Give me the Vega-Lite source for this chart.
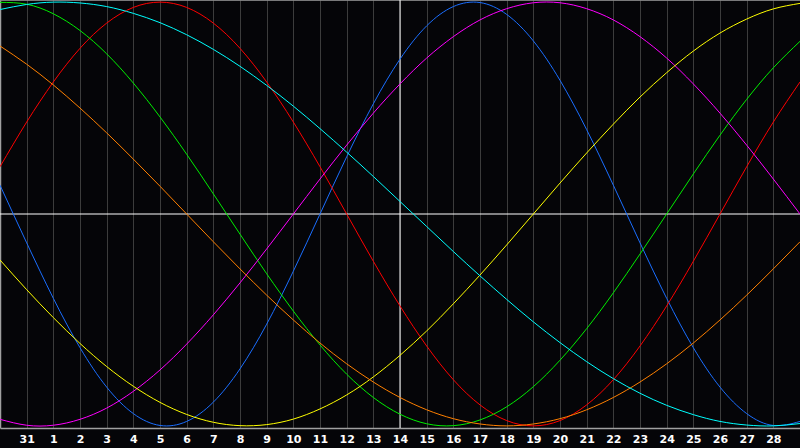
{
  "$schema": "https://vega.github.io/schema/vega-lite/v6.json",
  "width": 800,
  "height": 428,
  "autosize": {"type": "none"},
  "padding": {"left": 0, "top": 0, "right": 0, "bottom": 20},
  "background": "#050508",
  "config": {"view": {"stroke": null}},
  "datasets": {
    "refs": [
      {"kind": "center", "v": 0},
      {"kind": "top", "v": 1.01}
    ],
    "vrefs": [
      {"kind": "today", "t": 15}
    ],
    "curves": [
      {"s":"physical","t":0,"v":0.136},{"s":"physical","t":1,"v":-0.136},{"s":"physical","t":2,"v":-0.398},{"s":"physical","t":3,"v":-0.631},{"s":"physical","t":4,"v":-0.817},{"s":"physical","t":5,"v":-0.942},{"s":"physical","t":6,"v":-0.998},{"s":"physical","t":7,"v":-0.979},{"s":"physical","t":8,"v":-0.888},{"s":"physical","t":9,"v":-0.731},{"s":"physical","t":10,"v":-0.520},{"s":"physical","t":11,"v":-0.270},{"s":"physical","t":12,"v":0},{"s":"physical","t":13,"v":0.270},{"s":"physical","t":14,"v":0.520},{"s":"physical","t":15,"v":0.731},{"s":"physical","t":16,"v":0.888},{"s":"physical","t":17,"v":0.979},{"s":"physical","t":18,"v":0.998},{"s":"physical","t":19,"v":0.942},{"s":"physical","t":20,"v":0.817},{"s":"physical","t":21,"v":0.631},{"s":"physical","t":22,"v":0.398},{"s":"physical","t":23,"v":0.136},{"s":"physical","t":24,"v":-0.136},{"s":"physical","t":25,"v":-0.398},{"s":"physical","t":26,"v":-0.631},{"s":"physical","t":27,"v":-0.817},{"s":"physical","t":28,"v":-0.942},{"s":"physical","t":29,"v":-0.998},{"s":"physical","t":30,"v":-0.979},
      {"s":"emotional","t":0,"v":0.223},{"s":"emotional","t":1,"v":0.434},{"s":"emotional","t":2,"v":0.623},{"s":"emotional","t":3,"v":0.782},{"s":"emotional","t":4,"v":0.901},{"s":"emotional","t":5,"v":0.975},{"s":"emotional","t":6,"v":1},{"s":"emotional","t":7,"v":0.975},{"s":"emotional","t":8,"v":0.901},{"s":"emotional","t":9,"v":0.782},{"s":"emotional","t":10,"v":0.623},{"s":"emotional","t":11,"v":0.434},{"s":"emotional","t":12,"v":0.223},{"s":"emotional","t":13,"v":0},{"s":"emotional","t":14,"v":-0.223},{"s":"emotional","t":15,"v":-0.434},{"s":"emotional","t":16,"v":-0.623},{"s":"emotional","t":17,"v":-0.782},{"s":"emotional","t":18,"v":-0.901},{"s":"emotional","t":19,"v":-0.975},{"s":"emotional","t":20,"v":-1},{"s":"emotional","t":21,"v":-0.975},{"s":"emotional","t":22,"v":-0.901},{"s":"emotional","t":23,"v":-0.782},{"s":"emotional","t":24,"v":-0.623},{"s":"emotional","t":25,"v":-0.434},{"s":"emotional","t":26,"v":-0.223},{"s":"emotional","t":27,"v":0},{"s":"emotional","t":28,"v":0.223},{"s":"emotional","t":29,"v":0.434},{"s":"emotional","t":30,"v":0.623},
      {"s":"intellectual","t":0,"v":0.999},{"s":"intellectual","t":1,"v":0.990},{"s":"intellectual","t":2,"v":0.945},{"s":"intellectual","t":3,"v":0.866},{"s":"intellectual","t":4,"v":0.756},{"s":"intellectual","t":5,"v":0.618},{"s":"intellectual","t":6,"v":0.458},{"s":"intellectual","t":7,"v":0.282},{"s":"intellectual","t":8,"v":0.095},{"s":"intellectual","t":9,"v":-0.095},{"s":"intellectual","t":10,"v":-0.282},{"s":"intellectual","t":11,"v":-0.458},{"s":"intellectual","t":12,"v":-0.618},{"s":"intellectual","t":13,"v":-0.756},{"s":"intellectual","t":14,"v":-0.866},{"s":"intellectual","t":15,"v":-0.945},{"s":"intellectual","t":16,"v":-0.990},{"s":"intellectual","t":17,"v":-0.999},{"s":"intellectual","t":18,"v":-0.972},{"s":"intellectual","t":19,"v":-0.910},{"s":"intellectual","t":20,"v":-0.815},{"s":"intellectual","t":21,"v":-0.690},{"s":"intellectual","t":22,"v":-0.541},{"s":"intellectual","t":23,"v":-0.372},{"s":"intellectual","t":24,"v":-0.189},{"s":"intellectual","t":25,"v":0},{"s":"intellectual","t":26,"v":0.189},{"s":"intellectual","t":27,"v":0.372},{"s":"intellectual","t":28,"v":0.541},{"s":"intellectual","t":29,"v":0.690},{"s":"intellectual","t":30,"v":0.815},
      {"s":"intuitive","t":0,"v":-0.969},{"s":"intuitive","t":1,"v":-0.997},{"s":"intuitive","t":2,"v":-0.997},{"s":"intuitive","t":3,"v":-0.969},{"s":"intuitive","t":4,"v":-0.916},{"s":"intuitive","t":5,"v":-0.837},{"s":"intuitive","t":6,"v":-0.736},{"s":"intuitive","t":7,"v":-0.614},{"s":"intuitive","t":8,"v":-0.476},{"s":"intuitive","t":9,"v":-0.325},{"s":"intuitive","t":10,"v":-0.165},{"s":"intuitive","t":11,"v":0},{"s":"intuitive","t":12,"v":0.165},{"s":"intuitive","t":13,"v":0.325},{"s":"intuitive","t":14,"v":0.476},{"s":"intuitive","t":15,"v":0.614},{"s":"intuitive","t":16,"v":0.736},{"s":"intuitive","t":17,"v":0.837},{"s":"intuitive","t":18,"v":0.916},{"s":"intuitive","t":19,"v":0.969},{"s":"intuitive","t":20,"v":0.997},{"s":"intuitive","t":21,"v":0.997},{"s":"intuitive","t":22,"v":0.969},{"s":"intuitive","t":23,"v":0.916},{"s":"intuitive","t":24,"v":0.837},{"s":"intuitive","t":25,"v":0.736},{"s":"intuitive","t":26,"v":0.614},{"s":"intuitive","t":27,"v":0.476},{"s":"intuitive","t":28,"v":0.325},{"s":"intuitive","t":29,"v":0.165},{"s":"intuitive","t":30,"v":0},
      {"s":"aesthetic","t":0,"v":-0.217},{"s":"aesthetic","t":1,"v":-0.357},{"s":"aesthetic","t":2,"v":-0.489},{"s":"aesthetic","t":3,"v":-0.611},{"s":"aesthetic","t":4,"v":-0.720},{"s":"aesthetic","t":5,"v":-0.813},{"s":"aesthetic","t":6,"v":-0.889},{"s":"aesthetic","t":7,"v":-0.946},{"s":"aesthetic","t":8,"v":-0.983},{"s":"aesthetic","t":9,"v":-0.999},{"s":"aesthetic","t":10,"v":-0.994},{"s":"aesthetic","t":11,"v":-0.968},{"s":"aesthetic","t":12,"v":-0.920},{"s":"aesthetic","t":13,"v":-0.854},{"s":"aesthetic","t":14,"v":-0.769},{"s":"aesthetic","t":15,"v":-0.667},{"s":"aesthetic","t":16,"v":-0.552},{"s":"aesthetic","t":17,"v":-0.424},{"s":"aesthetic","t":18,"v":-0.288},{"s":"aesthetic","t":19,"v":-0.146},{"s":"aesthetic","t":20,"v":0},{"s":"aesthetic","t":21,"v":0.146},{"s":"aesthetic","t":22,"v":0.288},{"s":"aesthetic","t":23,"v":0.424},{"s":"aesthetic","t":24,"v":0.552},{"s":"aesthetic","t":25,"v":0.667},{"s":"aesthetic","t":26,"v":0.769},{"s":"aesthetic","t":27,"v":0.854},{"s":"aesthetic","t":28,"v":0.920},{"s":"aesthetic","t":29,"v":0.968},{"s":"aesthetic","t":30,"v":0.994},
      {"s":"awareness","t":0,"v":0.793},{"s":"awareness","t":1,"v":0.707},{"s":"awareness","t":2,"v":0.609},{"s":"awareness","t":3,"v":0.5},{"s":"awareness","t":4,"v":0.383},{"s":"awareness","t":5,"v":0.259},{"s":"awareness","t":6,"v":0.131},{"s":"awareness","t":7,"v":0},{"s":"awareness","t":8,"v":-0.131},{"s":"awareness","t":9,"v":-0.259},{"s":"awareness","t":10,"v":-0.383},{"s":"awareness","t":11,"v":-0.5},{"s":"awareness","t":12,"v":-0.609},{"s":"awareness","t":13,"v":-0.707},{"s":"awareness","t":14,"v":-0.793},{"s":"awareness","t":15,"v":-0.866},{"s":"awareness","t":16,"v":-0.924},{"s":"awareness","t":17,"v":-0.966},{"s":"awareness","t":18,"v":-0.991},{"s":"awareness","t":19,"v":-1},{"s":"awareness","t":20,"v":-0.991},{"s":"awareness","t":21,"v":-0.966},{"s":"awareness","t":22,"v":-0.924},{"s":"awareness","t":23,"v":-0.866},{"s":"awareness","t":24,"v":-0.793},{"s":"awareness","t":25,"v":-0.707},{"s":"awareness","t":26,"v":-0.609},{"s":"awareness","t":27,"v":-0.5},{"s":"awareness","t":28,"v":-0.383},{"s":"awareness","t":29,"v":-0.259},{"s":"awareness","t":30,"v":-0.131},
      {"s":"spiritual","t":0,"v":0.965},{"s":"spiritual","t":1,"v":0.989},{"s":"spiritual","t":2,"v":1.000},{"s":"spiritual","t":3,"v":0.996},{"s":"spiritual","t":4,"v":0.979},{"s":"spiritual","t":5,"v":0.947},{"s":"spiritual","t":6,"v":0.903},{"s":"spiritual","t":7,"v":0.846},{"s":"spiritual","t":8,"v":0.777},{"s":"spiritual","t":9,"v":0.697},{"s":"spiritual","t":10,"v":0.607},{"s":"spiritual","t":11,"v":0.509},{"s":"spiritual","t":12,"v":0.403},{"s":"spiritual","t":13,"v":0.292},{"s":"spiritual","t":14,"v":0.177},{"s":"spiritual","t":15,"v":0.059},{"s":"spiritual","t":16,"v":-0.059},{"s":"spiritual","t":17,"v":-0.177},{"s":"spiritual","t":18,"v":-0.292},{"s":"spiritual","t":19,"v":-0.403},{"s":"spiritual","t":20,"v":-0.509},{"s":"spiritual","t":21,"v":-0.607},{"s":"spiritual","t":22,"v":-0.697},{"s":"spiritual","t":23,"v":-0.777},{"s":"spiritual","t":24,"v":-0.846},{"s":"spiritual","t":25,"v":-0.903},{"s":"spiritual","t":26,"v":-0.947},{"s":"spiritual","t":27,"v":-0.979},{"s":"spiritual","t":28,"v":-0.996},{"s":"spiritual","t":29,"v":-1.000},{"s":"spiritual","t":30,"v":-0.989}
    ]
  },
  "encoding": {
    "x": {
      "field": "t",
      "type": "quantitative",
      "scale": {"domain": [0, 30], "nice": false, "zero": false},
      "axis": {
        "title": null,
        "values": [1,2,3,4,5,6,7,8,9,10,11,12,13,14,15,16,17,18,19,20,21,22,23,24,25,26,27,28,29],
        "labelExpr": "datum.value == 1 ? '31' : '' + (datum.value - 1)",
        "grid": true,
        "gridColor": "#3c3c3c",
        "gridWidth": 1,
        "ticks": false,
        "domainColor": "#a0a0a0",
        "domainWidth": 1.5,
        "labelColor": "#ffffff",
        "labelFont": "DejaVu Sans",
        "labelFontWeight": "bold",
        "labelFontSize": 11,
        "labelPadding": 5,
        "labelFlush": false,
        "labelOverlap": false
      }
    },
    "y": {
      "field": "v",
      "type": "quantitative",
      "scale": {"domain": [-1.01, 1.01], "nice": false, "zero": false},
      "axis": {
        "title": null,
        "labels": false,
        "ticks": false,
        "grid": false,
        "domainColor": "#a0a0a0",
        "domainWidth": 1.5
      }
    }
  },
  "layer": [
    {
      "data": {"name": "refs"},
      "transform": [{"filter": "datum.kind == 'top'"}],
      "mark": {"type": "rule", "color": "#a0a0a0", "strokeWidth": 1.5},
      "encoding": {"x": null, "y": {"field": "v", "type": "quantitative"}}
    },
    {
      "data": {"name": "refs"},
      "transform": [{"filter": "datum.kind == 'center'"}],
      "mark": {"type": "rule", "color": "#ffffff", "strokeWidth": 1},
      "encoding": {"x": null, "y": {"field": "v", "type": "quantitative"}}
    },
    {
      "data": {"name": "vrefs"},
      "mark": {"type": "rule", "color": "#ffffff", "strokeWidth": 1},
      "encoding": {"y": null, "x": {"field": "t", "type": "quantitative"}}
    },
    {
      "data": {"name": "curves"},
      "mark": {"type": "line", "strokeWidth": 1, "interpolate": "natural", "clip": true},
      "encoding": {
        "color": {
          "field": "s",
          "type": "nominal",
          "legend": null,
          "scale": {
            "domain": ["physical", "emotional", "intellectual", "intuitive", "aesthetic", "awareness", "spiritual"],
            "range": ["#1a6eff", "#ff0000", "#00ee00", "#ff00ff", "#ffff00", "#ff8000", "#00ffff"]
          }
        },
        "detail": {"field": "s"}
      }
    }
  ]
}
